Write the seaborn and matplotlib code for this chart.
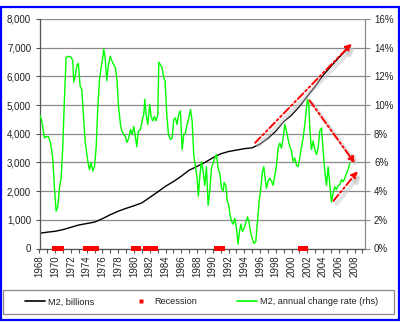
import numpy as np
import pandas as pd
import matplotlib
matplotlib.use("Agg")
import matplotlib.pyplot as plt
import matplotlib.transforms as mtransforms
from matplotlib.lines import Line2D
from matplotlib.patches import Rectangle
import seaborn as sns

# ---- data ---------------------------------------------------------------
m2_years = [1968, 1969, 1970, 1971, 1972, 1973, 1974, 1975, 1976, 1977,
            1978, 1979, 1980, 1981, 1982, 1983, 1984, 1985, 1986, 1987,
            1988, 1989, 1990, 1991, 1992, 1993, 1994, 1995, 1996, 1997,
            1998, 1999, 2000, 2001, 2002, 2003, 2004, 2005, 2006, 2007, 2007.4]
m2_billions = [530, 570, 600, 660, 740, 820, 870, 920, 1040, 1180,
               1300, 1400, 1490, 1590, 1780, 1970, 2170, 2330, 2520, 2730,
               2860, 3000, 3160, 3300, 3380, 3430, 3480, 3510, 3640, 3840,
               4090, 4420, 4650, 4950, 5300, 5650, 6030, 6350, 6650, 6930, 7040]

growth_years = [
    1968.00, 1968.29, 1968.63, 1968.84, 1969.13, 1969.39, 1969.68, 1969.90,
    1970.11, 1970.32, 1970.53, 1970.74, 1970.95, 1971.17, 1971.38, 1971.59,
    1972.01, 1972.22, 1972.35, 1972.52, 1972.77, 1972.94, 1973.16, 1973.37,
    1973.58, 1973.79, 1974.00, 1974.13, 1974.34, 1974.55, 1974.76, 1974.98,
    1975.19, 1975.40, 1975.61, 1975.82, 1976.03, 1976.16, 1976.33, 1976.54,
    1976.75, 1976.97, 1977.18, 1977.43, 1977.64, 1977.85, 1978.02, 1978.28,
    1978.45, 1978.70, 1978.91, 1979.12, 1979.34, 1979.55, 1979.76, 1979.97,
    1980.18, 1980.35, 1980.56, 1980.82, 1981.03, 1981.24, 1981.37, 1981.54,
    1981.75, 1982.00, 1982.17, 1982.38, 1982.59, 1982.81, 1983.02, 1983.15,
    1983.36, 1983.57, 1983.78, 1983.95, 1984.16, 1984.37, 1984.63, 1984.84,
    1985.05, 1985.26, 1985.47, 1985.68, 1985.90, 1986.11, 1986.32, 1986.53,
    1986.74, 1986.95, 1987.17, 1987.38, 1987.59, 1987.76, 1988.01, 1988.18,
    1988.35, 1988.57, 1988.78, 1988.99, 1989.20, 1989.41, 1989.62, 1989.84,
    1990.05, 1990.26, 1990.47, 1990.68, 1990.89, 1991.11, 1991.32, 1991.44,
    1991.66, 1991.83, 1992.04, 1992.21, 1992.38, 1992.59, 1992.80, 1993.01,
    1993.22, 1993.35, 1993.56, 1993.77, 1993.98, 1994.20, 1994.41, 1994.58,
    1994.79, 1995.00, 1995.25, 1995.47, 1995.68, 1995.89, 1996.10, 1996.31,
    1996.48, 1996.65, 1996.82, 1997.03, 1997.24, 1997.46, 1997.67, 1997.88,
    1998.09, 1998.30, 1998.51, 1998.73, 1998.94, 1999.15, 1999.36, 1999.57,
    1999.78, 2000.00, 2000.21, 2000.42, 2000.63, 2000.84, 2001.05, 2001.27,
    2001.48, 2001.69, 2001.90, 2002.03, 2002.20, 2002.32, 2002.53, 2002.75,
    2002.96, 2003.17, 2003.38, 2003.59, 2003.80, 2004.02, 2004.23, 2004.44,
    2004.65, 2004.86, 2005.07, 2005.29, 2005.50, 2005.71, 2005.92, 2006.13,
    2006.34, 2006.56, 2006.77, 2006.98, 2007.19, 2007.40]
growth_pct = [
    9.35, 8.9, 7.7, 7.8, 7.8, 7.4, 6.3, 4.2,
    2.6, 2.9, 4.2, 4.9, 7.0, 10.5, 13.3, 13.4,
    13.35, 13.1, 11.6, 12.0, 12.8, 12.9, 11.3, 11.1,
    9.3, 7.5, 6.6, 6.1, 5.5, 6.0, 5.4, 5.7,
    7.0, 9.8, 11.7, 12.6, 13.3, 13.9, 13.3, 11.7,
    12.8, 13.4, 13.1, 12.8, 12.6, 11.7, 10.0, 8.65,
    8.2, 7.95, 7.8, 7.4, 7.7, 8.3, 7.95, 8.5,
    7.8, 7.1, 8.2, 8.3, 8.9, 9.35, 10.4, 9.35,
    8.65, 10.05, 9.2, 8.9, 9.2, 8.9, 9.35, 13.0,
    12.8, 12.6, 11.9, 11.7, 9.35, 7.95, 7.6, 7.7,
    9.0, 9.1, 8.65, 9.35, 9.6, 6.9, 7.95, 8.05,
    8.65, 9.1, 9.7, 8.9, 6.55, 5.85, 4.9, 3.65,
    5.0, 6.05, 5.35, 4.4, 5.7, 3.0, 4.0, 5.6,
    5.95, 6.3, 6.55, 5.6, 5.25, 4.2, 4.0, 4.6,
    4.4, 3.35, 3.0, 2.3, 1.9, 1.7, 2.1, 1.4,
    0.3, 1.0, 1.7, 1.2, 1.4, 1.8, 2.2, 1.9,
    1.2, 0.7, 0.35, 0.5, 1.9, 3.3, 4.2, 5.35,
    5.7, 4.9, 4.2, 4.7, 4.9, 4.7, 4.4, 5.1,
    5.8, 7.0, 7.35, 7.0, 7.7, 8.65, 8.2, 7.6,
    7.1, 6.8, 6.05, 6.3, 5.8, 5.7, 6.3, 7.1,
    7.7, 8.65, 9.7, 10.4, 10.05, 8.4, 6.9, 7.5,
    6.9, 6.55, 7.0, 8.2, 8.4, 6.8, 5.35, 4.4,
    5.7, 4.5, 3.25, 3.9, 4.3, 4.1, 4.4, 4.45,
    4.8, 4.65, 4.9, 5.25, 5.5, 5.95]

# NBER recessions (start, end) as fractional years
recession_start = [1969.92, 1973.83, 1980.00, 1981.50, 1990.50, 2001.17]
recession_end = [1970.83, 1975.17, 1980.50, 1982.83, 1991.17, 2001.83]

left_ticks = [0, 1000, 2000, 3000, 4000, 5000, 6000, 7000, 8000]
right_ticks = [0, 2, 4, 6, 8, 10, 12, 14, 16]
year_ticks = list(range(1968, 2010))

# ---- tables -------------------------------------------------------------
m2_df = pd.DataFrame({"year": m2_years, "m2": m2_billions})
growth_df = pd.DataFrame({"year": growth_years, "pct": growth_pct})
rec_months = np.concatenate([np.arange(s, e + 1e-6, 1 / 12)
                             for s, e in zip(recession_start, recession_end)])
rec_df = pd.DataFrame({"year": rec_months, "flag": np.zeros_like(rec_months)})

# ---- style --------------------------------------------------------------
sns.set_theme(style="white")
plt.rcParams["font.family"] = ["Liberation Sans", "DejaVu Sans"]
TXT = "#222222"
GRID = "#8a8a8a"

W, H = 400, 322
fig = plt.figure(figsize=(W / 100, H / 100), dpi=100)
fig.patch.set_facecolor("white")

L, R, T, B = 39.5, 365, 19, 248.5
ax = fig.add_axes([L / W, 1 - B / H, (R - L) / W, (B - T) / H])
ax2 = ax.twinx()

# M2 level, left axis
sns.lineplot(data=m2_df, x="year", y="m2", ax=ax, color="black",
             linewidth=1.0, legend=False)
# recession months sitting on the baseline
sns.scatterplot(data=rec_df, x="year", y="flag", ax=ax, marker="s", s=14,
                color="#ff0000", edgecolor="none", clip_on=False,
                legend=False, zorder=5)
# annual growth rate, right axis
sns.lineplot(data=growth_df, x="year", y="pct", ax=ax2, color="#00ff00",
             linewidth=1.0, legend=False)

x0, x1 = 1968.0, 1968 + (R - L) / 7.875
for a in (ax, ax2):
    a.set_xlim(x0, x1)
    a.set_xlabel("")
    a.set_ylabel("")
    a.patch.set_alpha(0)
ax.set_ylim(0, 8000)
ax2.set_ylim(0, 16)

ax.set_yticks(left_ticks)
ax.set_yticklabels([f"{v:,}" for v in left_ticks])
ax2.set_yticks(right_ticks)
ax2.set_yticklabels([f"{v}%" for v in right_ticks])
ax.set_xticks(year_ticks)
ax.set_xticklabels([str(y) if y % 2 == 0 else "" for y in year_ticks],
                   rotation=90)

ax.yaxis.grid(True, color=GRID, linewidth=0.9)
ax.xaxis.grid(False)
ax2.grid(False)

for s in ("top", "right"):
    ax.spines[s].set_visible(False)
for s in ("top", "left", "bottom"):
    ax2.spines[s].set_visible(False)
ax.spines["left"].set_color("#555555")
ax.spines["bottom"].set_color("#555555")
ax2.spines["right"].set_color("#8a8a8a")
for sp in list(ax.spines.values()) + list(ax2.spines.values()):
    sp.set_linewidth(0.9)

ax.tick_params(axis="y", which="both", left=True, length=3, width=0.8,
               color="#555555", pad=3, labelsize=7, labelcolor=TXT)
ax.tick_params(axis="x", which="both", bottom=True, length=3, width=0.8,
               color="#555555", pad=2, labelsize=7, labelcolor=TXT)
ax2.tick_params(axis="y", which="both", right=True, length=3.5, width=0.8,
                color="#8a8a8a", pad=3, labelsize=7, labelcolor=TXT)

# ---- trend arrows -------------------------------------------------------
def trend_arrow(axis, start, end, ds=(0, 0), de=(0, 0)):
    t_s = mtransforms.offset_copy(axis.transData, fig=fig, x=ds[0], y=ds[1],
                                  units="dots")
    t_e = mtransforms.offset_copy(axis.transData, fig=fig, x=de[0], y=de[1],
                                  units="dots")
    sh_s = mtransforms.offset_copy(t_s, fig=fig, x=3, y=-3, units="dots")
    sh_e = mtransforms.offset_copy(t_e, fig=fig, x=3, y=-3, units="dots")
    axis.annotate("", xy=end, xycoords=sh_e, xytext=start, textcoords=sh_s,
                  arrowprops=dict(arrowstyle="-|>", color="#c4c4c4", lw=3.0,
                                  alpha=0.45, mutation_scale=9,
                                  shrinkA=0, shrinkB=0),
                  annotation_clip=False, zorder=6)
    axis.annotate("", xy=end, xycoords=t_e, xytext=start, textcoords=t_s,
                  arrowprops=dict(arrowstyle="-|>", color="#ff0000", lw=1.4,
                                  linestyle=(0, (4, 1.5, 1, 1.5, 1, 1.5)),
                                  mutation_scale=9, shrinkA=0, shrinkB=0),
                  annotation_clip=False, zorder=7)

i95 = m2_years.index(1995)
trend_arrow(ax, (m2_years[i95], m2_billions[i95]),
            (m2_years[-1], m2_billions[-1]), ds=(3, 5), de=(2, 3))
ipk = int(np.argmax(growth_pct[150:])) + 150
trend_arrow(ax2, (growth_years[ipk], growth_pct[ipk]),
            (growth_years[-1], growth_pct[-1]), ds=(2, -1), de=(5, 0))
imn = int(np.argmin(growth_pct[170:])) + 170
trend_arrow(ax2, (growth_years[imn], growth_pct[imn]),
            (growth_years[-1], growth_pct[-1]), ds=(2, 1), de=(8, -8))

# ---- legend -------------------------------------------------------------
leg_y = 1 - 302 / H
entries = [
    (Line2D([], [], color="black", lw=1.2), "M2, billions", 25),
    (Line2D([], [], color="#ff0000", ls="none", marker="s", ms=3.2,
            mec="none"), "Recession", 131),
    (Line2D([], [], color="#00ff00", lw=1.2), "M2, annual change rate (rhs)",
     236.5),
]
for handle, label, xpx in entries:
    lg = fig.legend([handle], [label], loc="center left",
                    bbox_to_anchor=(xpx / W, leg_y), frameon=False,
                    borderaxespad=0, borderpad=0, handlelength=2.2,
                    handletextpad=0.35, fontsize=6.6)
    for t in lg.get_texts():
        t.set_color(TXT)

fig.add_artist(Rectangle((3 / W, 1 - 314 / H), (394 - 3) / W, 24 / H,
                         transform=fig.transFigure, fill=False,
                         edgecolor="#8a8a8a", linewidth=0.9))
# outer frame
fig.add_artist(Rectangle((1 / W, 1 - 320 / H), 398 / W, 313 / H,
                         transform=fig.transFigure, fill=False,
                         edgecolor="#0000ff", linewidth=1.6))

fig.savefig("out.png", dpi=100, facecolor="white")
